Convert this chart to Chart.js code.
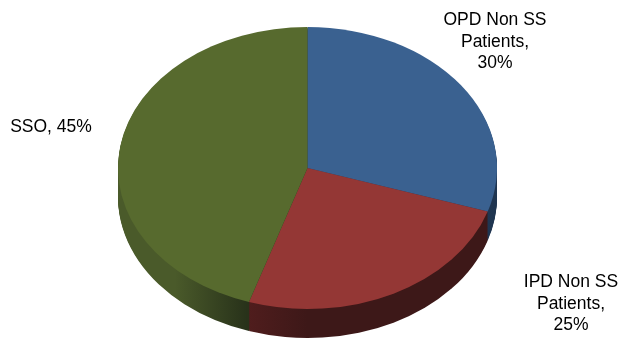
<!DOCTYPE html>
<html>
<head>
  <title>Patients share</title>
  <script src="https://cdn.jsdelivr.net/npm/chart.js"></script>
  <style>
    html, body { margin: 0; padding: 0; background: white; }
    canvas { display: block; }
  </style>
</head>
<body>
  <canvas id="pieChart" width="624" height="347"></canvas>

  <script>
    const categories = ["OPD Non SS Patients", "IPD Non SS Patients", "SSO"];
    const shares = [30, 25, 45];
    // label text as Excel wrapped it
    const labelLines = [
      ["OPD Non SS", "Patients,", "30%"],
      ["IPD Non SS", "Patients,", "25%"],
      ["SSO, 45%"]
    ];

    const topColors = ["#3a6190", "#943735", "#576a2e"];
    const sideLight = ["#2c4a70", "#501d1d", "#4a5a2a"];
    const sideDark = ["#1f3550", "#3d1818", "#28321a"];

    // where the 3D pie sits on the page
    const CX = 307.5, CY = 168, RX = 189.5, RY = 141, DEPTH = 29;
    const labelPos = [[495, 25], [571, 287], [51, 132]];

    function pieTransform(ctx, arc, dy) {
      const r = arc.outerRadius;
      ctx.translate(CX, CY + dy);
      ctx.scale(RX / r, RY / r);
      ctx.translate(-arc.x, -arc.y);
    }

    const pie3d = {
      id: "pie3d",
      beforeDatasetsDraw(chart) {
        const ctx = chart.ctx;
        const arcs = chart.getDatasetMeta(0).data;
        ctx.save();
        for (let d = DEPTH; d >= 1; d--) {
          arcs.forEach((arc, i) => {
            ctx.save();
            pieTransform(ctx, arc, d);
            ctx.beginPath();
            ctx.moveTo(arc.x, arc.y);
            ctx.arc(arc.x, arc.y, arc.outerRadius, arc.startAngle, arc.endAngle);
            ctx.closePath();
            ctx.setTransform(1, 0, 0, 1, 0, 0);
            const g = ctx.createLinearGradient(CX - RX, 0, CX + RX, 0);
            if (i === 2) {
              g.addColorStop(0, sideLight[i]);
              g.addColorStop(0.15, sideLight[i]);
              g.addColorStop(0.34, sideDark[i]);
              g.addColorStop(1, sideDark[i]);
            } else if (i === 1) {
              g.addColorStop(0, sideLight[i]);
              g.addColorStop(0.34, sideLight[i]);
              g.addColorStop(0.5, sideDark[i]);
              g.addColorStop(1, sideDark[i]);
            } else {
              g.addColorStop(0, sideLight[i]);
              g.addColorStop(1, sideDark[i]);
            }
            ctx.fillStyle = g;
            ctx.fill();
            ctx.restore();
          });
        }
        pieTransform(ctx, arcs[0], 0);
      },
      afterDatasetsDraw(chart) {
        chart.ctx.restore();
      },
      afterDraw(chart) {
        const ctx = chart.ctx;
        ctx.save();
        ctx.fillStyle = "#000";
        ctx.font = "17.5px 'Liberation Sans', Arial, sans-serif";
        ctx.textAlign = "center";
        ctx.textBaseline = "alphabetic";
        labelLines.forEach((lines, i) => {
          lines.forEach((t, j) => {
            ctx.fillText(t, labelPos[i][0], labelPos[i][1] + j * 21.5);
          });
        });
        ctx.restore();
      }
    };

    const ctx = document.getElementById("pieChart").getContext("2d");
    new Chart(ctx, {
      type: "pie",
      data: {
        labels: categories,
        datasets: [{
          data: shares,
          backgroundColor: topColors,
          borderWidth: 0,
          clip: false
        }]
      },
      options: {
        responsive: false,
        animation: false,
        plugins: {
          legend: { display: false },
          tooltip: { enabled: false }
        }
      },
      plugins: [pie3d]
    });
  </script>
</body>
</html>
